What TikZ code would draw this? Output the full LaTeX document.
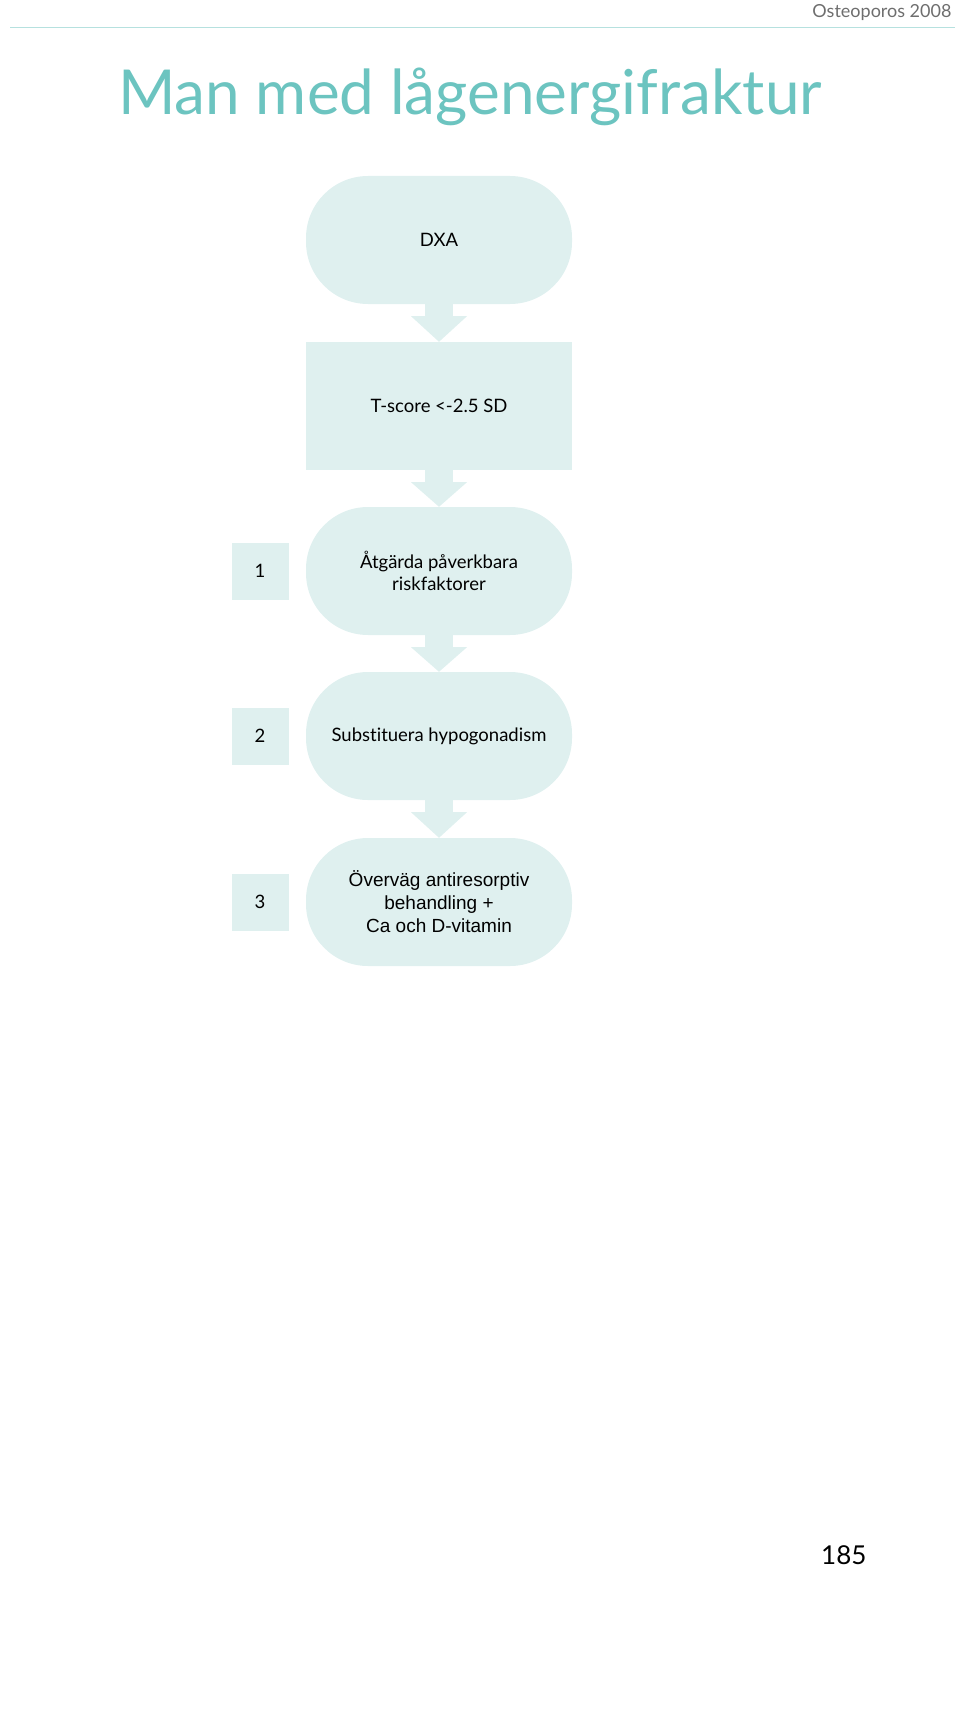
\documentclass[tikz,border=0pt]{standalone}
\usepackage{fontspec}
\setmainfont{Lato}
\newfontfamily\helv{Liberation Sans}
\usetikzlibrary{positioning,shapes.geometric}
\definecolor{teal1}{HTML}{6CC4C0}
\definecolor{boxfill}{HTML}{DFF0EF}
\definecolor{graytxt}{HTML}{6E6E6E}
\begin{document}
\begin{tikzpicture}[
		x=1pt, y=-1pt,
		font=\fontsize{18.5}{22}\selectfont
	]
	\tikzset{
		stepround/.style = {rounded corners=62pt, fill=boxfill, minimum width=266pt, minimum height=128pt, align=center, inner sep=0pt},
		stepsquare/.style = {fill=boxfill, minimum width=266pt, minimum height=128pt, align=center, inner sep=0pt},
		numbox/.style = {fill=boxfill, minimum width=57pt, minimum height=57pt, inner sep=0pt},
		downarrow/.style = {fill=boxfill},
	}
	\useasboundingbox (0,0) rectangle (960,1720);
	%
	\node[anchor=east, text=graytxt, font=\fontsize{18}{22}\selectfont] (hdr) at (955,13) {Osteoporos 2008};
	\draw[teal1!50, line width=1pt] (10,28) -- (955,28);
	\node[text=teal1, font=\fontsize{62}{66}\selectfont\addfontfeature{Weight=Light}] (title) at (470,97) {Man med lågenergifraktur};
	%
	\node[stepround] at (439,240) (dxa) {DXA};
	\node[stepsquare] at (439,406) (tscore) {T-score <-2.5 SD};
	\node[stepround] at (439,571) (risk) {Åtgärda påverkbara\\riskfaktorer};
	\node[stepround, font=\addfontfeature{Ligatures=NoCommon}\fontsize{18.5}{22}\selectfont] at (439,736) (subst) {Substituera hypogonadism};
	\node[stepround, font=\helv\fontsize{19}{23}\selectfont] at (439,902) (overvag) {Överväg antiresorptiv\\behandling +\\Ca och D-vitamin};
	%
	\node[numbox] at (260,571) (n1) {1};
	\node[numbox] at (260,736) (n2) {2};
	\node[numbox] at (260,902) (n3) {3};
	%
	\foreach \a/\b in {dxa/tscore, tscore/risk, risk/subst, subst/overvag}{
		\fill[downarrow] ([xshift=-14pt]\a.south) rectangle ([xshift=14pt,yshift=-12pt]\a.south);
		\fill[downarrow] ([xshift=-28pt,yshift=-12pt]\a.south) -- ([xshift=28pt,yshift=-12pt]\a.south) -- (\b.north) -- cycle;
	}
	%
	\node[anchor=east, font=\fontsize{26}{30}\selectfont] (page) at (870,1555) {185};
\end{tikzpicture}
\end{document}
